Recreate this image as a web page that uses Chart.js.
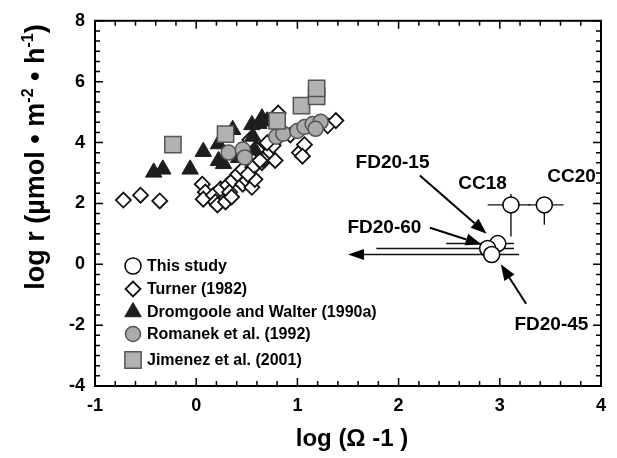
<!DOCTYPE html>
<html>
<head>
<meta charset="utf-8">
<script src="https://cdn.jsdelivr.net/npm/chart.js@4/dist/chart.umd.min.js"></script>
<style>
  html, body { margin: 0; padding: 0; background: #fff; }
</style>
</head>
<body>
<canvas id="chart" width="617" height="458"></canvas>
<script>
// ---------------------------
//  Data
// ---------------------------
const xTicks = [-1, 0, 1, 2, 3, 4];
const yTicks = [-4, -2, 0, 2, 4, 6, 8];

// This study (with horizontal / vertical error ranges)
const studyNames = ['FD20-15', 'FD20-60', 'FD20-45', 'CC18', 'CC20'];
const studyX = [2.98, 2.88, 2.92, 3.11, 3.44];
const studyY = [0.68, 0.52, 0.32, 1.95, 1.95];
const studyXLo = [2.47, 1.78, 1.50, 2.88, 3.28];
const studyXHi = [3.14, 3.14, 3.19, 3.30, 3.63];
const studyYLo = [null, null, null, 0.91, 1.30];
const studyYHi = [null, null, null, 2.31, 2.05];
const studyOpenLeft = [false, false, true, false, false];

// Turner (1982)
const turnerX = [-0.72, -0.55, -0.36, 0.06, 0.09, 0.07, 0.17, 0.19, 0.21, 0.24, 0.29, 0.31, 0.33, 0.35,
  0.36, 0.41, 0.46, 0.46, 0.50, 0.55, 0.56, 0.58, 0.65, 0.70, 0.66, 0.78, 0.76, 0.70, 0.53, 0.83,
  0.93, 1.02, 1.07, 1.05, 0.81, 1.30, 1.38, 0.60, 0.63, 0.51];
const turnerY = [2.11, 2.27, 2.08, 2.63, 2.37, 2.14, 2.27, 2.05, 1.95, 2.47, 2.05, 2.60, 2.37, 2.21,
  2.76, 2.95, 2.63, 3.12, 2.76, 2.53, 3.18, 2.79, 3.34, 3.60, 3.44, 3.41, 3.90, 3.99, 4.09, 4.22,
  4.25, 3.67, 3.93, 3.55, 4.97, 4.55, 4.72, 3.77, 3.41, 2.95];

// Dromgoole and Walter (1990a)
const dromX = [-0.42, -0.33, -0.06, 0.07, 0.22, 0.22, 0.27, 0.36, 0.42, 0.55, 0.58, 0.65, 0.70, 0.56, 0.62];
const dromY = [3.02, 3.12, 3.12, 3.70, 3.95, 3.40, 3.30, 4.42, 3.50, 4.58, 3.75, 4.80, 4.70, 4.20, 4.62];

// Romanek et al. (1992)
const romX = [0.32, 0.46, 0.48, 0.79, 0.86, 1.00, 1.07, 1.15, 1.23, 1.18];
const romY = [3.67, 3.77, 3.51, 4.19, 4.29, 4.38, 4.51, 4.61, 4.68, 4.45];

// Jimenez et al. (2001)
const jimX = [-0.23, 0.29, 0.80, 1.04, 1.19, 1.19];
const jimY = [3.93, 4.28, 4.71, 5.21, 5.52, 5.78];

// Annotations: label position and arrow (from -> to), in data units
const noteText = ['FD20-15', 'FD20-60', 'FD20-45', 'CC18', 'CC20'];
const noteX = [1.94, 1.86, 3.51, 2.83, 3.71];
const noteY = [3.34, 1.20, -2.00, 2.63, 2.89];
const arrowX1 = [2.21, 2.31, 3.26, null, null];
const arrowY1 = [2.92, 1.20, -1.30, null, null];
const arrowX2 = [2.87, 2.82, 3.01, null, null];
const arrowY2 = [1.00, 0.65, 0.00, null, null];

const FONT = '"Liberation Sans", Arial, Helvetica, sans-serif';

function pts(xs, ys) {
  return xs.map((x, i) => ({ x: x, y: ys[i] }));
}

// ---------------------------
//  Helpers de dibujo
// ---------------------------
function drawArrow(ctx, x1, y1, x2, y2, len, wid) {
  const ang = Math.atan2(y2 - y1, x2 - x1);
  const bx = x2 - Math.cos(ang) * len;
  const by = y2 - Math.sin(ang) * len;
  ctx.beginPath();
  ctx.moveTo(x1, y1);
  ctx.lineTo(bx, by);
  ctx.stroke();
  ctx.beginPath();
  ctx.moveTo(x2, y2);
  ctx.lineTo(bx + Math.sin(ang) * wid / 2, by - Math.cos(ang) * wid / 2);
  ctx.lineTo(bx - Math.sin(ang) * wid / 2, by + Math.cos(ang) * wid / 2);
  ctx.closePath();
  ctx.fill();
}

function marker(ctx, style, x, y, r, fill, stroke, lw) {
  ctx.beginPath();
  if (style === 'circle') {
    ctx.arc(x, y, r, 0, Math.PI * 2);
  } else if (style === 'rectRot') {
    ctx.moveTo(x, y - r); ctx.lineTo(x + r, y); ctx.lineTo(x, y + r); ctx.lineTo(x - r, y);
    ctx.closePath();
  } else if (style === 'triangle') {
    ctx.moveTo(x, y - r);
    ctx.lineTo(x + r * 0.866, y + r * 0.5);
    ctx.lineTo(x - r * 0.866, y + r * 0.5);
    ctx.closePath();
  } else {
    const s = r * Math.SQRT1_2;
    ctx.rect(x - s, y - s, 2 * s, 2 * s);
  }
  ctx.fillStyle = fill;
  ctx.fill();
  ctx.lineWidth = lw;
  ctx.strokeStyle = stroke;
  ctx.stroke();
}

// runs: [texto, esSuperindice]
function drawRuns(ctx, runs, size, supSize, raise) {
  let w = 0;
  runs.forEach(r => {
    ctx.font = 'bold ' + (r[1] ? supSize : size) + 'px ' + FONT;
    w += ctx.measureText(r[0]).width;
  });
  let x = -w / 2;
  runs.forEach(r => {
    ctx.font = 'bold ' + (r[1] ? supSize : size) + 'px ' + FONT;
    ctx.fillText(r[0], x, r[1] ? -raise : 0);
    x += ctx.measureText(r[0]).width;
  });
}

// ---------------------------
//  Plugin: barras, flechas, marco, leyenda
// ---------------------------
const extras = {
  id: 'extras',
  beforeDatasetsDraw(chart) {
    const ctx = chart.ctx;
    const xs = chart.scales.x, ys = chart.scales.y;
    ctx.save();
    ctx.strokeStyle = '#111';
    ctx.fillStyle = '#000';
    ctx.lineWidth = 1.4;
    studyX.forEach((x, i) => {
      const py = ys.getPixelForValue(studyY[i]);
      const px = xs.getPixelForValue(x);
      const lo = xs.getPixelForValue(studyXLo[i]);
      const hi = xs.getPixelForValue(studyXHi[i]);
      if (studyOpenLeft[i]) {
        drawArrow(ctx, hi, py, lo, py, 16, 11);
      } else {
        ctx.beginPath(); ctx.moveTo(lo, py); ctx.lineTo(hi, py); ctx.stroke();
      }
      if (studyYLo[i] !== null) {
        ctx.beginPath();
        ctx.moveTo(px, ys.getPixelForValue(studyYLo[i]));
        ctx.lineTo(px, ys.getPixelForValue(studyYHi[i]));
        ctx.stroke();
      }
    });
    ctx.restore();
  },
  afterDatasetsDraw(chart) {
    const ctx = chart.ctx;
    const xs = chart.scales.x, ys = chart.scales.y;
    const area = chart.chartArea;
    ctx.save();
    // notas
    ctx.fillStyle = '#000';
    ctx.strokeStyle = '#000';
    ctx.lineWidth = 2;
    ctx.font = 'bold 19px ' + FONT;
    ctx.textAlign = 'center';
    ctx.textBaseline = 'middle';
    noteText.forEach((t, i) => {
      ctx.fillText(t, xs.getPixelForValue(noteX[i]), ys.getPixelForValue(noteY[i]));
      if (arrowX1[i] !== null) {
        drawArrow(ctx,
          xs.getPixelForValue(arrowX1[i]), ys.getPixelForValue(arrowY1[i]),
          xs.getPixelForValue(arrowX2[i]), ys.getPixelForValue(arrowY2[i]), 16, 12);
      }
    });
    // leyenda
    const ds = chart.data.datasets;
    const rowY = [266, 289, 312, 334, 360];
    ctx.textAlign = 'left';
    ctx.font = 'bold 16px ' + FONT;
    ds.forEach((d, i) => {
      const y = rowY[i];
      marker(ctx, d.pointStyle, area.left + 38, y, d.pointRadius, d.backgroundColor, d.borderColor, d.borderWidth);
      ctx.fillStyle = '#000';
      ctx.fillText(d.label, area.left + 52, y + 1);
    });
    ctx.restore();
  },
  afterDraw(chart) {
    const ctx = chart.ctx;
    const xs = chart.scales.x, ys = chart.scales.y;
    const a = chart.chartArea;
    ctx.save();
    ctx.strokeStyle = '#000';
    ctx.lineWidth = 2;
    ctx.strokeRect(a.left, a.top, a.right - a.left, a.bottom - a.top);
    // marcas hacia adentro en los cuatro lados
    ctx.lineWidth = 1.5;
    for (let i = 0; i <= 25; i++) {
      const px = xs.getPixelForValue(-1 + i * 0.2);
      const len = i % 5 === 0 ? 8 : 5;
      ctx.beginPath();
      ctx.moveTo(px, a.bottom); ctx.lineTo(px, a.bottom - len);
      ctx.moveTo(px, a.top); ctx.lineTo(px, a.top + len);
      ctx.stroke();
    }
    for (let i = 0; i <= 36; i++) {
      const py = ys.getPixelForValue(-4 + i / 3);
      const len = i % 6 === 0 ? 8 : 5;
      ctx.beginPath();
      ctx.moveTo(a.left, py); ctx.lineTo(a.left + len, py);
      ctx.moveTo(a.right, py); ctx.lineTo(a.right - len, py);
      ctx.stroke();
    }
    // títulos de ejes
    ctx.fillStyle = '#000';
    ctx.textAlign = 'left';
    ctx.textBaseline = 'alphabetic';
    ctx.save();
    ctx.translate(44, 157);
    ctx.rotate(-Math.PI / 2);
    drawRuns(ctx, [['log r (', 0], ['\u00b5mol \u2022 m', 0], ['-2', 1], [' \u2022 h', 0], ['-1', 1], [')', 0]], 27, 16, 11);
    ctx.restore();
    ctx.save();
    ctx.translate(352, 446);
    drawRuns(ctx, [['log (\u03a9 -1 )', 0]], 24, 14, 10);
    ctx.restore();
    ctx.restore();
  }
};

// ---------------------------
//  Gráfico
// ---------------------------
new Chart(document.getElementById('chart'), {
  type: 'scatter',
  data: {
    datasets: [
      { label: 'This study', data: pts(studyX, studyY), pointStyle: 'circle', pointRadius: 8,
        backgroundColor: '#ffffff', borderColor: '#000000', borderWidth: 1.5, order: 0 },
      { label: 'Turner (1982)', data: pts(turnerX, turnerY), pointStyle: 'rectRot', pointRadius: 7.5,
        backgroundColor: '#ffffff', borderColor: '#111111', borderWidth: 1.8, order: 5 },
      { label: 'Dromgoole and Walter (1990a)', data: pts(dromX, dromY), pointStyle: 'triangle', pointRadius: 9.5,
        backgroundColor: '#1e1e1e', borderColor: '#1e1e1e', borderWidth: 1, order: 4 },
      { label: 'Romanek et al. (1992)', data: pts(romX, romY), pointStyle: 'circle', pointRadius: 7.5,
        backgroundColor: '#ababab', borderColor: '#555555', borderWidth: 1.5, order: 3 },
      { label: 'Jimenez et al. (2001)', data: pts(jimX, jimY), pointStyle: 'rect', pointRadius: 11.5,
        backgroundColor: '#b2b2b2', borderColor: '#555555', borderWidth: 1.5, order: 2 }
    ]
  },
  options: {
    responsive: false,
    animation: false,
    devicePixelRatio: 1,
    events: [],
    layout: { padding: { top: 17, right: 16, left: 0, bottom: 0 } },
    plugins: { legend: { display: false }, tooltip: { enabled: false } },
    scales: {
      x: {
        type: 'linear', min: -1, max: 4,
        afterBuildTicks: s => { s.ticks = xTicks.map(v => ({ value: v })); },
        ticks: { color: '#000', font: { family: FONT, size: 18, weight: 'bold' }, padding: 9 },
        grid: { display: false, drawTicks: false },
        border: { display: false },
        afterFit: s => { s.height = 72; }
      },
      y: {
        type: 'linear', min: -4, max: 8,
        afterBuildTicks: s => { s.ticks = yTicks.map(v => ({ value: v })); },
        ticks: { color: '#000', font: { family: FONT, size: 18, weight: 'bold' }, padding: 10 },
        grid: { display: false, drawTicks: false },
        border: { display: false },
        afterFit: s => { s.width = 95; }
      }
    }
  },
  plugins: [extras]
});
</script>
</body>
</html>
